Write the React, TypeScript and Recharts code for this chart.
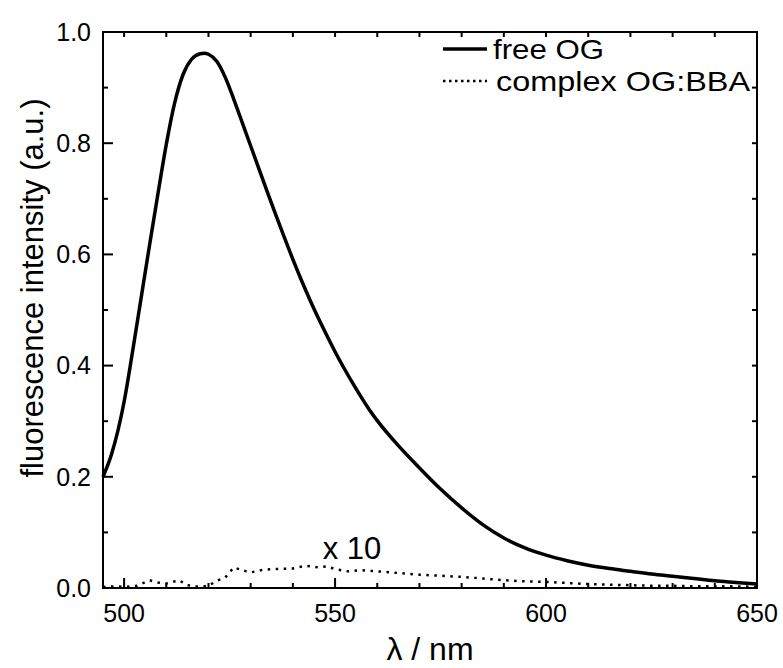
import React from "react";
import { LineChart, Line, XAxis, YAxis, ReferenceDot } from "recharts";

// wavelength (nm) and intensity
const freeOgNm = [
  495, 497, 500, 502, 504, 506, 508, 510, 512, 514, 516, 518, 519, 520, 522, 524,
  526, 528, 530, 532, 534, 536, 538, 540, 542, 544, 546, 548, 550, 552, 555, 558,
  560, 565, 570, 575, 580, 585, 590, 595, 600, 605, 610, 615, 620, 625, 630, 635,
  640, 645, 650,
];
const freeOgIntensity = [
  0.2, 0.24, 0.335, 0.425, 0.52, 0.615, 0.708, 0.798, 0.873, 0.924, 0.951, 0.961,
  0.962, 0.96, 0.947, 0.918, 0.879, 0.837, 0.795, 0.753, 0.711, 0.67, 0.63, 0.591,
  0.554, 0.519, 0.486, 0.455, 0.425, 0.397, 0.358, 0.322, 0.301, 0.256, 0.216, 0.178,
  0.144, 0.114, 0.09, 0.072, 0.059, 0.049, 0.041, 0.035, 0.03, 0.025, 0.021, 0.017,
  0.013, 0.01, 0.007,
];

// complex OG:BBA, already multiplied by 10
const complexNm = [
  495, 498, 500, 503, 506, 508, 510, 513, 515, 518, 520, 522, 524, 526, 528, 530,
  533, 536, 540, 543, 546, 548, 550, 553, 556, 560, 565, 570, 575, 580, 585, 590,
  595, 600, 605, 610, 615, 620, 625, 630, 635, 640, 645, 650,
];
const complexIntensity = [
  0.002, 0.003, 0.002, 0.004, 0.014, 0.01, 0.008, 0.014, 0.005, 0.002, 0.004, 0.013,
  0.019, 0.037, 0.032, 0.028, 0.033, 0.034, 0.035, 0.04, 0.037, 0.039, 0.034, 0.03,
  0.032, 0.03, 0.027, 0.024, 0.022, 0.02, 0.017, 0.014, 0.012, 0.011, 0.009, 0.007,
  0.006, 0.005, 0.004, 0.004, 0.003, 0.003, 0.003, 0.002,
];

const xTicks = [500, 510, 520, 530, 540, 550, 560, 570, 580, 590, 600, 610, 620, 630, 640, 650];
const yTicks = [0, 0.1, 0.2, 0.3, 0.4, 0.5, 0.6, 0.7, 0.8, 0.9, 1.0];

const freeData = freeOgNm.map((nm, i) => ({ nm, v: freeOgIntensity[i] }));
const complexData = complexNm.map((nm, i) => ({ nm, v: complexIntensity[i] }));

const W = 783;
const H = 668;
const X_AXIS_H = 80;
const Y_AXIS_W = 103;
const MARGIN = { top: 32, right: 26, bottom: 0, left: 0 };
const PLOT_LEFT = Y_AXIS_W;
const PLOT_TOP = MARGIN.top;
const PLOT_RIGHT = W - MARGIN.right;
const PLOT_BOTTOM = H - X_AXIS_H;

const FONT = "'Liberation Sans', Arial, sans-serif";
const INK = "#000";

// bottom ticks (inward) + mirrored short ticks on the top edge
const BottomTick = (props: any) => {
  const { x, y, payload } = props;
  const major = payload.value % 50 === 0;
  const len = major ? 10 : 5;
  return (
    <g>
      <rect x={x - 1} y={y - len} width={2} height={len} fill={INK} />
      <rect x={x - 1} y={PLOT_TOP} width={2} height={5} fill={INK} />
      {major && (
        <text x={x} y={y + 34} textAnchor="middle" fontSize={25} fontFamily={FONT} fill="#000">
          {payload.value}
        </text>
      )}
    </g>
  );
};

// left ticks (inward) + mirrored short ticks on the right edge
const LeftTick = (props: any) => {
  const { x, y, payload } = props;
  const major = Math.round(payload.value * 10) % 2 === 0;
  const len = major ? 10 : 5;
  return (
    <g>
      <rect x={x} y={y - 1} width={len} height={2} fill={INK} />
      <rect x={PLOT_RIGHT - 5} y={y - 1} width={5} height={2} fill={INK} />
      {major && (
        <text x={x - 12} y={y} dy="0.35em" textAnchor="end" fontSize={25} fontFamily={FONT} fill="#000">
          {payload.value.toFixed(1)}
        </text>
      )}
    </g>
  );
};

// frame, legend and axis titles on top of the chart
const Overlay = () => (
  <svg width={W} height={H} style={{ position: "absolute", left: 0, top: 0, pointerEvents: "none" }}>
    <rect
      x={PLOT_LEFT}
      y={PLOT_TOP}
      width={PLOT_RIGHT - PLOT_LEFT}
      height={PLOT_BOTTOM - PLOT_TOP}
      fill="none"
      stroke="#000"
      strokeWidth={2}
    />
    <line x1={443} x2={487} y1={49} y2={49} stroke="#000" strokeWidth={3.5} />
    <text x={493} y={49} dy="0.35em" fontSize={28} fontFamily={FONT} fill="#000" textLength={111} lengthAdjust="spacingAndGlyphs">
      free OG
    </text>
    <line x1={443} x2={487} y1={81} y2={81} stroke="#000" strokeWidth={2.5} strokeDasharray="2.5 3.5" />
    <text x={496} y={81} dy="0.35em" fontSize={28} fontFamily={FONT} fill="#000" textLength={254} lengthAdjust="spacingAndGlyphs">
      complex OG:BBA
    </text>
    <text
      x={32}
      y={288}
      transform="rotate(-90, 32, 288)"
      textAnchor="middle"
      dy="0.35em"
      fontSize={31}
      fontFamily={FONT}
      fill="#000"
    >
      fluorescence intensity (a.u.)
    </text>
    <text x={430} y={660} textAnchor="middle" fontSize={32} fontFamily={FONT} fill="#000">
      λ / nm
    </text>
  </svg>
);

export default function App() {
  return (
    <div style={{ position: "absolute", left: 0, top: 0, width: W, height: H, background: "#fff" }}>
      <LineChart width={W} height={H} margin={MARGIN}>
        <XAxis
          type="number"
          dataKey="nm"
          domain={[495, 650]}
          ticks={xTicks}
          interval={0}
          height={X_AXIS_H}
          tickSize={0}
          tickMargin={0}
          tickLine={false}
          tick={<BottomTick />}
          axisLine={{ stroke: INK, strokeWidth: 2 }}
        />
        <YAxis
          type="number"
          domain={[0, 1]}
          ticks={yTicks}
          interval={0}
          width={Y_AXIS_W}
          tickSize={0}
          tickMargin={0}
          tickLine={false}
          tick={<LeftTick />}
          axisLine={{ stroke: INK, strokeWidth: 2 }}
        />
        <Line
          data={freeData}
          dataKey="v"
          type="monotone"
          stroke="#000"
          strokeWidth={3.5}
          dot={false}
          isAnimationActive={false}
        />
        <Line
          data={complexData}
          dataKey="v"
          type="linear"
          stroke="#000"
          strokeWidth={2.5}
          strokeDasharray="2.5 5.5"
          dot={false}
          isAnimationActive={false}
        />
        <ReferenceDot
          x={554}
          y={0.072}
          r={0}
          fill="none"
          stroke="none"
          label={{ value: "x 10", position: "center", fontSize: 31, fontFamily: FONT, fill: "#000" }}
        />
      </LineChart>
      <Overlay />
    </div>
  );
}
